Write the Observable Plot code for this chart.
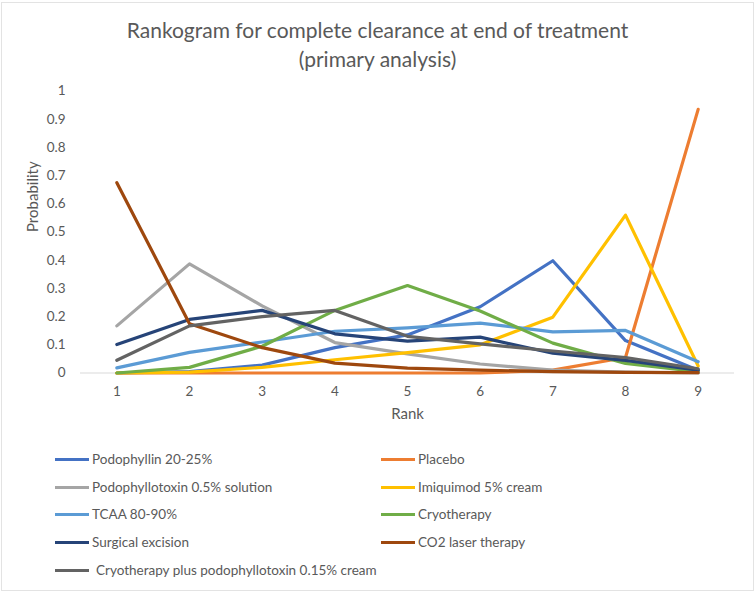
<!DOCTYPE html>
<html>
<head>
<meta charset="utf-8">
<script src="https://cdn.jsdelivr.net/npm/d3@7"></script>
<script src="https://cdn.jsdelivr.net/npm/@observablehq/plot@0.6"></script>
<style>
  html, body { margin: 0; padding: 0; background: #fff; }
  #chart { position: relative; width: 755px; height: 592px; overflow: hidden; font-family: Lato, "Open Sans", sans-serif; color: #595959; }
  #frame { position: absolute; left: 1px; top: 2px; width: 751px; height: 587px; border: 1px solid #e3e3e3; }
  #title { position: absolute; left: 0; width: 755px; top: 15px; text-align: center; font-size: 21px; line-height: 29px; color: #595959; }
  #plot { position: absolute; left: 0; top: 70px; }
  .leg { position: absolute; height: 20px; display: flex; align-items: center; font-size: 13.5px; color: #595959; white-space: nowrap; }
  .sw { width: 34px; height: 3px; margin-right: 3px; flex: none; }
</style>
</head>
<body>
<div id="chart">
  <div id="frame"></div>
  <div id="title">Rankogram for complete clearance at end of treatment<br>(primary analysis)</div>
  <div id="plot"></div>
</div>
<script>
// ---- data ----
const ranks = [1, 2, 3, 4, 5, 6, 7, 8, 9];
const seriesNames = [
  "Podophyllin 20-25%",
  "Placebo",
  "Podophyllotoxin 0.5% solution",
  "Imiquimod 5% cream",
  "TCAA 80-90%",
  "Cryotherapy",
  "Surgical excision",
  "CO2 laser therapy",
  "Cryotherapy plus podophyllotoxin 0.15% cream"
];
const podophyllin      = [0.000, 0.005, 0.028, 0.090, 0.135, 0.235, 0.398, 0.115, 0.010];
const placebo          = [0.000, 0.000, 0.000, 0.000, 0.000, 0.000, 0.010, 0.055, 0.935];
const podophyllotoxin  = [0.167, 0.387, 0.238, 0.108, 0.068, 0.032, 0.010, 0.003, 0.000];
const imiquimod        = [0.000, 0.003, 0.020, 0.047, 0.072, 0.100, 0.198, 0.560, 0.025];
const tcaa             = [0.018, 0.073, 0.110, 0.148, 0.160, 0.177, 0.146, 0.151, 0.040];
const cryotherapy      = [0.000, 0.020, 0.095, 0.222, 0.310, 0.220, 0.106, 0.034, 0.005];
const surgical         = [0.101, 0.190, 0.222, 0.139, 0.113, 0.127, 0.070, 0.045, 0.010];
const co2laser         = [0.675, 0.175, 0.090, 0.035, 0.017, 0.010, 0.005, 0.002, 0.001];
const cryoPlus         = [0.045, 0.167, 0.200, 0.222, 0.130, 0.103, 0.078, 0.055, 0.015];
const seriesValues = [podophyllin, placebo, podophyllotoxin, imiquimod, tcaa, cryotherapy, surgical, co2laser, cryoPlus];
const seriesColors = ["#4472C4", "#ED7D31", "#A5A5A5", "#FFC000", "#5B9BD5", "#70AD47", "#264478", "#9E480E", "#636363"];
const yTicks = [0, 0.1, 0.2, 0.3, 0.4, 0.5, 0.6, 0.7, 0.8, 0.9, 1];
const yTickLabels = ["0", "0.1", "0.2", "0.3", "0.4", "0.5", "0.6", "0.7", "0.8", "0.9", "1"];

// ---- table ----
const rows = [];
seriesNames.forEach((name, i) => {
  ranks.forEach((r, j) => rows.push({series: name, rank: r, value: seriesValues[i][j]}));
});

const chart = Plot.plot({
  width: 755,
  height: 360,
  marginLeft: 80,
  marginRight: 21,
  marginTop: 20.5,
  marginBottom: 57.5,
  style: {fontFamily: "Lato, 'Open Sans', sans-serif", fontSize: "13.5px", color: "#595959", background: "transparent"},
  x: {domain: [0.5, 9.5], ticks: ranks.length, tickFormat: d => String(d), tickSize: 0, tickPadding: 13, label: null},
  y: {domain: [0, 1], ticks: 10, tickFormat: d => yTickLabels[yTicks.findIndex(t => Math.abs(t - d) < 1e-9)], tickSize: 0, tickPadding: 15, label: null},
  color: {domain: seriesNames, range: seriesColors},
  marks: [
    Plot.ruleY([0], {stroke: "#d9d9d9", strokeWidth: 1}),
    Plot.line(rows, {x: "rank", y: "value", z: "series", stroke: "series", strokeWidth: 3.2, strokeLinejoin: "round", strokeLinecap: "round"}),
    Plot.text(["Probability"], {text: d => d, frameAnchor: "left", dx: -47, rotate: -90, fontSize: 15, fill: "#595959"}),
    Plot.text(["Rank"], {text: d => d, frameAnchor: "bottom", dy: 45.5, fontSize: 15, fill: "#595959"})
  ]
});
document.getElementById("plot").appendChild(chart);

// ---- legend ----
const legRowY = [459, 487, 514, 542, 570];
const container = document.getElementById("chart");
seriesNames.forEach((name, i) => {
  const col = i % 2, row = Math.floor(i / 2);
  const el = document.createElement("div");
  el.className = "leg";
  el.style.left = (col === 0 ? 55 : 381) + "px";
  el.style.top = (legRowY[row] - 10) + "px";
  const sw = document.createElement("div");
  sw.className = "sw";
  sw.style.background = seriesColors[i];
  const tx = document.createElement("span");
  tx.textContent = name;
  if (i === 8) tx.style.marginLeft = "4px";
  el.appendChild(sw);
  el.appendChild(tx);
  container.appendChild(el);
});
</script>
</body>
</html>
